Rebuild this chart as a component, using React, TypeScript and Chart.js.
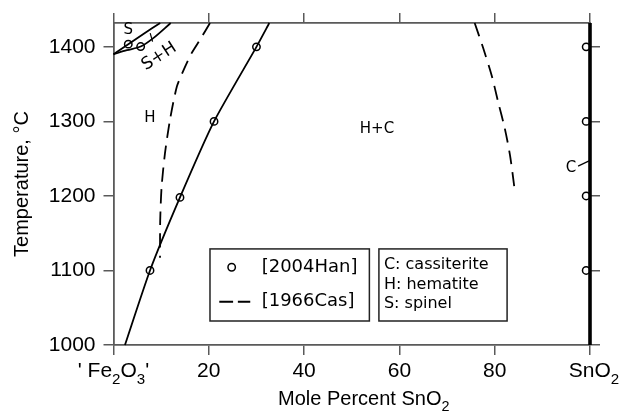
import React, { useEffect, useRef } from "react";
import { Chart, registerables } from "chart.js";

Chart.register(...registerables);

// ---- axis ranges / ticks ----
const xMin = 0;
const xMax = 100;
const yMin = 1000;
const yMax = 1432;
const xStep = 20;
const yStep = 100;

// ---- [2004Han] experimental points (mole % SnO2, °C) ----
const han2004Hematite: [number, number][] = [
  [7.66, 1100],
  [13.95, 1198],
  [21.1, 1300],
  [30.0, 1400],
];
const han2004Spinel: [number, number][] = [
  [3.1, 1403.6],
  [5.7, 1400.4],
];
const han2004Cassiterite: [number, number][] = [
  [99.2, 1100],
  [99.2, 1200],
  [99.2, 1300],
  [99.2, 1400],
];

// ---- phase boundaries ----
const hematiteSolvus: [number, number][] = [
  [2.4, 1000],
  [7.66, 1100],
  [13.95, 1198],
  [21.1, 1300],
  [30.0, 1400],
  [32.7, 1432],
];
const cas1966Hematite: [number, number][] = [
  [20.25, 1432],
  [18.2, 1410],
  [16.4, 1391.5],
  [14.8, 1370],
  [13.3, 1346.7],
  [11.85, 1302],
  [10.8, 1257],
  [10.1, 1212.5],
  [9.8, 1167],
  [9.76, 1117],
];
const cas1966Cassiterite: [number, number][] = [
  [75.8, 1432],
  [77.6, 1398],
  [79.35, 1362],
  [80.7, 1326.6],
  [82.1, 1291],
  [83.2, 1255],
  [84.2, 1208],
];
const spinelUpper: [number, number][] = [
  [0, 1390],
  [3.1, 1403.6],
  [6.2, 1417],
  [9.8, 1432],
];
const spinelLower: [number, number][] = [
  [0, 1390],
  [2.8, 1395.5],
  [5.7, 1400.4],
  [8.35, 1411.7],
  [12.0, 1432],
];
const cassiteriteLine: [number, number][] = [
  [100, 1000],
  [100, 1432],
];
const cLeader: [number, number][] = [
  [97.5, 1240],
  [99.8, 1247],
];
const shLeader: [number, number][] = [
  [7.7, 1418.4],
  [8.2, 1407.1],
];

// ---- phase field labels: [text, x, y, rotationDeg, fontSize] ----
const fieldLabels: [string, number, number, number, number][] = [
  ["S", 3.1, 1423, 0, 15],
  ["S+H", 9.6, 1387, -33, 17],
  ["H", 7.66, 1304, 0, 15],
  ["H+C", 55.3, 1290, 0, 15],
  ["C", 96.0, 1237.6, 0, 15],
];

// ---- legend texts ----
const legendSources = ["[2004Han]", "[1966Cas]"];
const legendPhases = ["C: cassiterite", "H: hematite", "S: spinel"];
// legend boxes in data units [x0, x1, yTop, yBottom]
const legendBox1 = [20.25, 53.7, 1128.9, 1032.2];
const legendBox2 = [55.7, 82.6, 1128.9, 1032.2];

const xy = (a: [number, number][]) => a.map(([x, y]) => ({ x, y }));

const FRAME = "#5a5a5a";
const AXIS_FONT = "'Liberation Sans', Arial, sans-serif";
const TEXT_FONT = "'DejaVu Sans', sans-serif";

function drawRich(
  ctx: CanvasRenderingContext2D,
  parts: { t: string; sub?: boolean }[],
  cx: number,
  cy: number,
  size: number,
  family: string
) {
  const subSize = size * 0.72;
  let total = 0;
  const widths = parts.map((p) => {
    ctx.font = `${p.sub ? subSize : size}px ${family}`;
    const w = ctx.measureText(p.t).width;
    total += w;
    return w;
  });
  let x = cx - total / 2;
  ctx.textAlign = "left";
  ctx.textBaseline = "middle";
  parts.forEach((p, i) => {
    ctx.font = `${p.sub ? subSize : size}px ${family}`;
    ctx.fillText(p.t, x, p.sub ? cy + size * 0.38 : cy);
    x += widths[i];
  });
}

const annotationPlugin = {
  id: "phaseAnnotations",
  afterDraw(chart: any) {
    const ctx: CanvasRenderingContext2D = chart.ctx;
    const xs = chart.scales.x;
    const ys = chart.scales.y;
    const px = (v: number) => xs.getPixelForValue(v);
    const py = (v: number) => ys.getPixelForValue(v);
    ctx.save();
    ctx.fillStyle = "#000";

    // field labels
    fieldLabels.forEach(([t, x, y, rot, size]) => {
      ctx.save();
      ctx.font = `${size}px ${TEXT_FONT}`;
      ctx.translate(px(x), py(y));
      ctx.rotate((rot * Math.PI) / 180);
      ctx.textAlign = "center";
      ctx.textBaseline = "middle";
      ctx.fillText(t, 0, 0);
      ctx.restore();
    });

    // chemical tick labels on x axis
    const labelY = xs.top + 10 + 4 + (21 * 1.2) / 2;
    drawRich(
      ctx,
      [{ t: "' Fe" }, { t: "2", sub: true }, { t: "O" }, { t: "3", sub: true }, { t: "'" }],
      px(xMin),
      labelY,
      21,
      AXIS_FONT
    );
    drawRich(ctx, [{ t: "SnO" }, { t: "2", sub: true }], px(xMax) + 4, labelY, 21, AXIS_FONT);

    // x axis title
    drawRich(
      ctx,
      [{ t: "Mole Percent SnO" }, { t: "2", sub: true }],
      (chart.chartArea.left + chart.chartArea.right) / 2 + 12,
      399,
      20,
      AXIS_FONT
    );

    // legend boxes
    ctx.strokeStyle = "#222";
    ctx.lineWidth = 1.5;
    [legendBox1, legendBox2].forEach(([x0, x1, yt, yb]) => {
      ctx.strokeRect(px(x0), py(yt), px(x1) - px(x0), py(yb) - py(yt));
    });
    // legend 1 markers
    const r1 = py(1104.3);
    const r2 = py(1058);
    ctx.lineWidth = 1.5;
    ctx.strokeStyle = "#000";
    ctx.beginPath();
    ctx.arc(px(24.8), r1, 3.7, 0, Math.PI * 2);
    ctx.stroke();
    ctx.lineWidth = 1.8;
    ctx.beginPath();
    ctx.moveTo(px(22.2), r2);
    ctx.lineTo(px(25.1), r2);
    ctx.moveTo(px(26.1), r2);
    ctx.lineTo(px(28.7), r2);
    ctx.stroke();
    ctx.font = `18px ${TEXT_FONT}`;
    ctx.textAlign = "left";
    ctx.textBaseline = "middle";
    ctx.fillText(legendSources[0], px(31.1), r1);
    ctx.fillText(legendSources[1], px(31.1), r2);
    // legend 2 texts
    ctx.font = `16px ${TEXT_FONT}`;
    const rowsY = [1107.5, 1081, 1055.5];
    legendPhases.forEach((t, i) => ctx.fillText(t, px(56.75), py(rowsY[i])));
    ctx.restore();
  },
};

const lineDs = (label: string, data: [number, number][], extra: any = {}) => ({
  label,
  data: xy(data),
  showLine: true,
  pointRadius: 0,
  borderColor: "#000",
  borderWidth: 1.8,
  tension: 0.3,
  fill: false,
  clip: false,
  ...extra,
});

const pointDs = (label: string, data: [number, number][]) => ({
  label,
  data: xy(data),
  showLine: false,
  pointRadius: 3.7,
  pointBorderWidth: 1.5,
  pointBorderColor: "#000",
  pointBackgroundColor: "rgba(0,0,0,0)",
  borderColor: "#000",
  backgroundColor: "rgba(0,0,0,0)",
  clip: false,
});

export default function App() {
  const ref = useRef<HTMLCanvasElement | null>(null);
  useEffect(() => {
    if (!ref.current) return;
    const axisGrid = {
      drawOnChartArea: false,
      drawTicks: true,
      tickLength: 10,
      color: FRAME,
      lineWidth: 1.5,
    };
    const border = { display: true, color: FRAME, width: 1.8 };
    const chart = new Chart(ref.current, {
      type: "scatter",
      data: {
        datasets: [
          lineDs("cassiterite", cassiteriteLine, { borderWidth: 3.6, tension: 0 }),
          lineDs("hematite solvus", hematiteSolvus, { tension: 0.2 }),
          lineDs("[1966Cas] hematite", cas1966Hematite, { borderDash: [14, 8], tension: 0.25 }),
          lineDs("[1966Cas] cassiterite", cas1966Cassiterite, { borderDash: [14, 8] }),
          lineDs("spinel upper", spinelUpper, { tension: 0.2 }),
          lineDs("spinel lower", spinelLower, { tension: 0.3 }),
          lineDs("C leader", cLeader, { borderWidth: 1.2, tension: 0 }),
          lineDs("S+H leader", shLeader, { borderWidth: 1.2, tension: 0 }),
          pointDs("[2004Han] H", han2004Hematite),
          pointDs("[2004Han] S", han2004Spinel),
          pointDs("[2004Han] C", han2004Cassiterite),
        ],
      },
      options: {
        responsive: false,
        animation: false,
        layout: { padding: 0 },
        plugins: { legend: { display: false }, tooltip: { enabled: false } },
        scales: {
          x: {
            type: "linear",
            position: "bottom",
            min: xMin,
            max: xMax,
            ticks: {
              stepSize: xStep,
              includeBounds: false,
              autoSkip: false,
              maxRotation: 0,
              padding: 4,
              color: "#000",
              font: { family: AXIS_FONT, size: 21 },
              callback: (v: any) => (v === xMin || v === xMax ? "" : String(v)),
            },
            grid: axisGrid,
            border,
            afterFit: (s: any) => {
              s.height = 69;
            },
          },
          x2: {
            type: "linear",
            position: "top",
            min: xMin,
            max: xMax,
            ticks: { stepSize: xStep, display: false },
            grid: axisGrid,
            border,
            afterFit: (s: any) => {
              s.height = 23;
            },
          },
          y: {
            type: "linear",
            position: "left",
            min: yMin,
            max: yMax,
            ticks: {
              stepSize: yStep,
              includeBounds: false,
              padding: 8,
              color: "#000",
              font: { family: AXIS_FONT, size: 21 },
              callback: (v: any) => String(v),
            },
            title: {
              display: true,
              text: "Temperature, °C",
              color: "#000",
              font: { family: AXIS_FONT, size: 20 },
              padding: { top: 10, bottom: 0 },
            },
            grid: axisGrid,
            border,
            afterFit: (s: any) => {
              s.width = 113.5;
            },
          },
          y2: {
            type: "linear",
            position: "right",
            min: yMin,
            max: yMax,
            ticks: { stepSize: yStep, includeBounds: false, display: false },
            grid: axisGrid,
            border,
            afterFit: (s: any) => {
              s.width = 31;
            },
          },
        },
      } as any,
      plugins: [annotationPlugin],
    });
    return () => chart.destroy();
  }, []);
  return (
    <div style={{ position: "absolute", left: 0, top: 0, width: 621, height: 414, background: "#fff" }}>
      <canvas ref={ref} width={621} height={414} />
    </div>
  );
}
